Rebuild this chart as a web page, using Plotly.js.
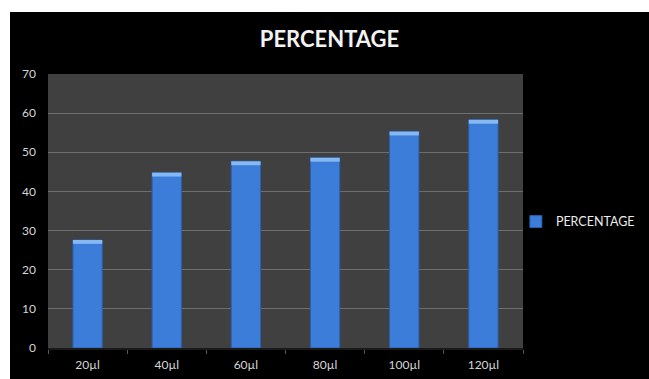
<!DOCTYPE html>
<html>
<head>
<meta charset="utf-8">
<script src="https://cdn.plot.ly/plotly-3.0.1.min.js"></script>
<style>
  html, body { margin: 0; padding: 0; background: #ffffff; width: 649px; height: 379px; overflow: hidden; }
  #chart { position: absolute; left: 10px; top: 12px; width: 639px; height: 367px; }
</style>
</head>
<body>
<div id="chart"></div>
<script>
// Volumes tested and the percentage recorded for each
const volumes = ["20µl", "40µl", "60µl", "80µl", "100µl", "120µl"];
const percentage = [27.6, 44.8, 47.7, 48.6, 55.3, 58.3];
const yTicks = [0, 10, 20, 30, 40, 50, 60, 70];

// thin light cap sitting on top of each bar
const capHeight = 1.0;
const capBase = percentage.map(v => v - capHeight);
const capSize = percentage.map(() => capHeight);

const font = "Lato, 'Open Sans', sans-serif";

const traces = [
  {
    type: "bar",
    name: "PERCENTAGE",
    x: volumes,
    y: percentage,
    marker: { color: "#3b7dd8", line: { color: "#2a5fae", width: 1 } },
    hoverinfo: "x+y"
  },
  {
    type: "bar",
    name: "cap",
    x: volumes,
    y: capSize,
    base: capBase,
    showlegend: false,
    hoverinfo: "skip",
    marker: { color: "#86b8f2", line: { width: 0 } }
  }
];

const layout = {
  width: 639,
  height: 367,
  paper_bgcolor: "#000000",
  plot_bgcolor: "#404040",
  margin: { l: 38, r: 126, t: 62, b: 31, autoexpand: false },
  barmode: "overlay",
  bargap: 0.63,
  title: {
    text: "<b>PERCENTAGE</b>",
    x: 0.5,
    xref: "container",
    y: 0.925,
    yref: "container",
    yanchor: "middle",
    font: { family: font, size: 22, color: "#f2f2f2" }
  },
  xaxis: {
    type: "category",
    tickfont: { family: font, size: 12, color: "#d6d6d6" },
    ticks: "outside",
    tickson: "boundaries",
    ticklen: 4,
    tickcolor: "#555555",
    ticklabelstandoff: 5,
    showline: true,
    linecolor: "#1a1a1a",
    linewidth: 2,
    showgrid: false,
    fixedrange: true
  },
  yaxis: {
    range: [0, 70],
    tickvals: yTicks,
    ticktext: yTicks.map(String),
    tickfont: { family: font, size: 12, color: "#d6d6d6" },
    ticks: "",
    ticklabelstandoff: 11,
    showgrid: true,
    gridcolor: "#6e6e6e",
    gridwidth: 1,
    zeroline: false,
    showline: false,
    fixedrange: true
  },
  legend: {
    x: 0.985,
    xanchor: "left",
    y: 0.46,
    yanchor: "middle",
    bgcolor: "rgba(0,0,0,0)",
    font: { family: font, size: 12.5, color: "#ececec" },
    itemwidth: 30
  },
  showlegend: true
};

Plotly.newPlot("chart", traces, layout, { displayModeBar: false, staticPlot: true });
</script>
</body>
</html>
